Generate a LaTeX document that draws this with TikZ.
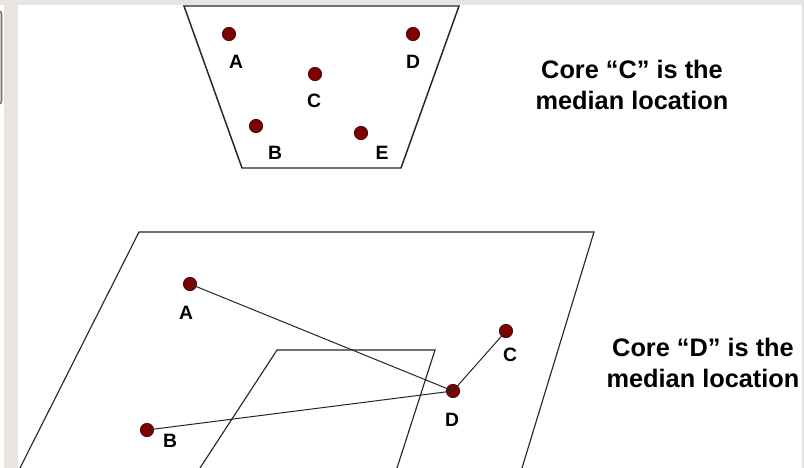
\documentclass[tikz,border=0pt]{standalone}
\usepackage{fontspec}
\setmainfont{Liberation Sans}
\definecolor{dotred}{HTML}{7F0000}
\definecolor{dotedge}{HTML}{3A0000}
\definecolor{frame}{HTML}{E8E4E1}
\begin{document}
\begin{tikzpicture}[x=0.75pt,y=-0.75pt,
  site/.style={circle,fill=dotred,draw=dotedge,line width=0.5pt,minimum size=10pt,inner sep=0pt},
  lbl/.style={font=\fontsize{14.5}{16}\selectfont\bfseries,inner sep=0pt},
  caption/.style={font=\fontsize{19}{23.5}\selectfont\bfseries,align=center,inner sep=0pt},
  plane/.style={draw=black!85,line width=0.85pt,line join=miter},
  link/.style={draw=black!85,line width=0.75pt}]
\useasboundingbox (0,0) rectangle (804,468);
\fill[white] (0,0) rectangle (804,468);
% window frame
\fill[frame] (4,0) rectangle (18,468);
\fill[frame] (0,0) rectangle (804,5);
\draw[black!55,line width=1.2pt,rounded corners=2pt] (-6,11) rectangle (1.5,104);
\draw[black!12,line width=0.8pt] (803,5) -- (803,468);
% top diagram
\draw[plane,line width=1.1pt] (184,6) -- (459,6) -- (401,168) -- (242,168) -- cycle;
\node[site] (tA) at (229,34) {};
\node[site] (tD) at (413,34) {};
\node[site] (tC) at (315,74) {};
\node[site] (tB) at (256,126) {};
\node[site] (tE) at (361,133) {};
\node[lbl] (ltA) at (236,62) {A};
\node[lbl] (ltD) at (413,62) {D};
\node[lbl] (ltC) at (314,101) {C};
\node[lbl] (ltB) at (275,153) {B};
\node[lbl] (ltE) at (382,153) {E};
\node[caption] (capC) at (632,85) {Core “C” is the\\median location};
% bottom diagram
\draw[plane] (20,468) -- (139,232) -- (594,232) -- (522,468);
\draw[plane] (200,468) -- (277,350) -- (435,350) -- (397,468);
\node[site] (bA) at (190,284) {};
\node[site] (bC) at (506,331) {};
\node[site] (bD) at (453,391) {};
\node[site] (bB) at (147,430) {};
\draw[link] (bA.center) -- (bD.center);
\draw[link] (bB.center) -- (bD.center);
\draw[link] (bC.center) -- (bD.center);
\node[lbl] (lbA) at (186,313) {A};
\node[lbl] (lbC) at (510,355) {C};
\node[lbl] (lbD) at (452,420) {D};
\node[lbl] (lbB) at (170,441) {B};
\node[caption] (capD) at (703,363) {Core “D” is the\\median location};
\end{tikzpicture}
\end{document}
